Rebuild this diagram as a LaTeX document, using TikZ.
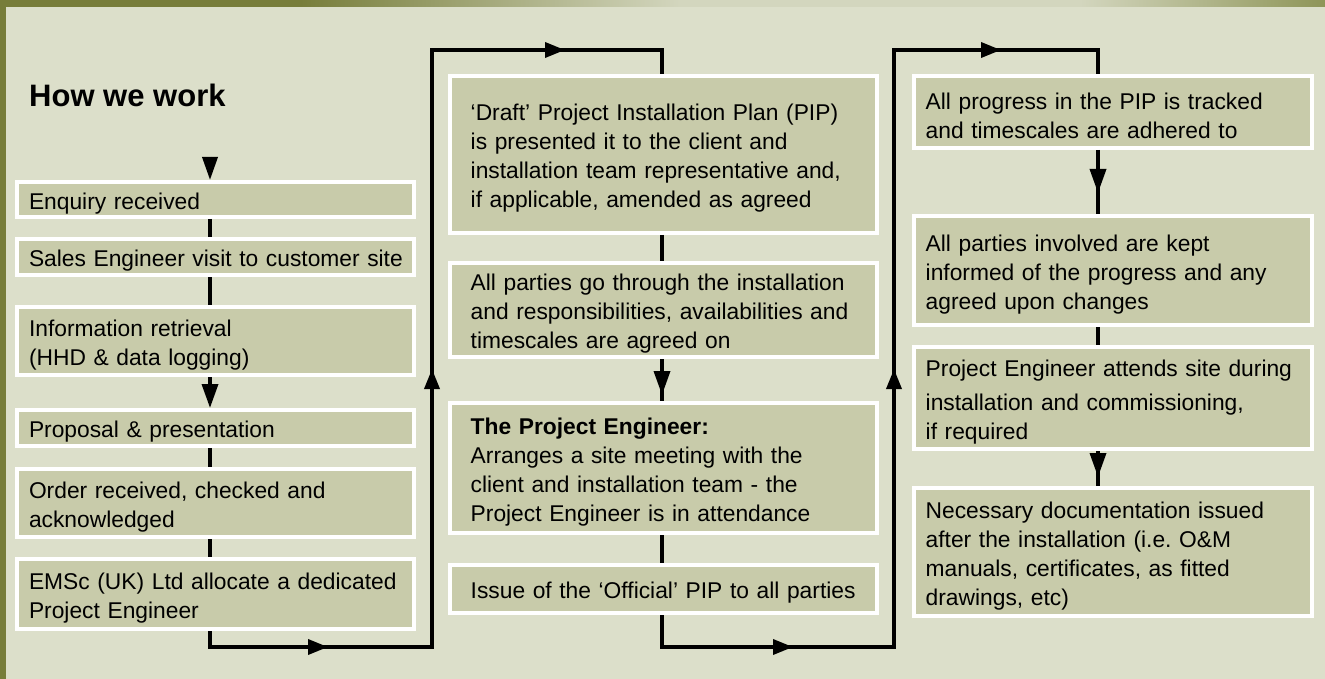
\documentclass[tikz,border=0pt]{standalone}
\usepackage{fontspec}
\setmainfont{Liberation Sans}
\usetikzlibrary{arrows.meta,decorations.markings}
\definecolor{bgc}{HTML}{DCDFCA}
\definecolor{boxc}{HTML}{C8CBAA}
\definecolor{olive}{HTML}{777D3A}
\definecolor{olivemid}{HTML}{8E9558}
\definecolor{lightstrip}{HTML}{D3D6BE}
\begin{document}
\begin{tikzpicture}[x=1pt,y=-1pt,
  stepbox/.style={draw=white, line width=4pt, fill=boxc, inner ysep=0pt, anchor=north west,
    align=left, font=\fontsize{22.8}{29}\selectfont\frenchspacing,
    execute at begin node={\rule{0pt}{24pt}}},
  cola/.style={stepbox, minimum width=397pt, inner xsep=12pt, text width=373pt},
  colb/.style={stepbox, minimum width=427pt, inner xsep=20.7pt, text width=385.6pt},
  colc/.style={stepbox, minimum width=398pt, inner xsep=11.7pt, text width=374.6pt},
  conn/.style={line width=3.5pt, draw=black},
  downarr/.style={-{Triangle[length=24pt,width=16pt]}},
  midtip/.style={postaction={decorate}, decoration={markings,
    mark=at position #1 with {\arrow{Triangle[length=24pt,width=16pt]}}}}
]
% background and frame
\useasboundingbox (0,0) rectangle (1325,679);
\fill[bgc] (0,0) rectangle (1325,679);
\fill[olive] (0,0) rectangle (6,679);
\fill[olive] (0,0) rectangle (300,7);
\shade[left color=olive, right color=lightstrip] (300,0) rectangle (680,7);
\fill[lightstrip] (680,0) rectangle (1080,7);
\shade[left color=lightstrip, right color=olivemid] (1080,0) rectangle (1325,7);

% title
\node[anchor=base west, inner sep=0pt, font=\bfseries\fontsize{31}{36}\selectfont] (title) at (29,107) {How we work};

% column 1
\node[cola, minimum height=35pt] (e1) at (15,180) {Enquiry received};
\node[cola, minimum height=36pt] (e2) at (15,237) {\mbox{Sales Engineer visit to customer site}};
\node[cola, minimum height=68pt] (e3) at (15,305) {Information retrieval\\(HHD \& data logging)};
\node[cola, minimum height=36pt] (e4) at (15,408) {Proposal \& presentation};
\node[cola, minimum height=68pt] (e5) at (15,467) {Order received, checked and\\acknowledged};
\node[cola, minimum height=70pt] (e6) at (15,557) {EMSc (UK) Ltd allocate a dedicated\\Project Engineer};

% column 2
\node[colb, minimum height=157pt] (d1) at (448,74) {‘Draft’ Project Installation Plan (PIP)\\is presented it to the client and\\installation team representative and,\\if applicable, amended as agreed};
\node[colb, minimum height=94pt] (d2) at (448,261) {All parties go through the installation\\and responsibilities, availabilities and\\timescales are agreed on};
\node[colb, minimum height=130pt] (d3) at (448,401) {\textbf{The Project Engineer:}\\Arranges a site meeting with the\\client and installation team - the\\Project Engineer is in attendance};
\node[colb, minimum height=48pt] (d4) at (448,563) {Issue of the ‘Official’ PIP to all parties};

% column 3
\node[colc, minimum height=72pt] (p1) at (912,74) {All progress in the PIP is tracked\\and timescales are adhered to};
\node[colc, minimum height=109pt] (p2) at (912,214) {All parties involved are kept\\informed of the progress and any\\agreed upon changes};
\node[colc, minimum height=102pt] (p3) at (912,345) {Project Engineer attends site during\\[5pt]installation and commissioning,\\if required};
\node[colc, minimum height=128pt] (p4) at (912,486) {Necessary documentation issued\\after the installation (i.e.\ O\&M\\manuals, certificates, as fitted\\drawings, etc)};

% connector columns
\coordinate (c1) at (210,0);
\coordinate (c2) at (662,0);
\coordinate (c3) at (1098,0);
\coordinate (s0) at (210,157);

% column 1 connectors
\draw[conn, -{Triangle[length=23pt,width=15pt]}] (s0) -- (e1.north -| c1);
\draw[conn] (e1.south -| c1) -- (e2.north -| c1);
\draw[conn] (e2.south -| c1) -- (e3.north -| c1);
\draw[conn, downarr] (e3.south -| c1) -- (e4.north -| c1);
\draw[conn] (e4.south -| c1) -- (e5.north -| c1);
\draw[conn] (e5.south -| c1) -- (e6.north -| c1);

% column 2 connectors
\draw[conn] (d1.south -| c2) -- (d2.north -| c2);
\draw[conn, midtip=36pt] (d2.south -| c2) -- (d3.north -| c2);
\draw[conn] (d3.south -| c2) -- (d4.north -| c2);

% column 3 connectors
\draw[conn, midtip=43pt] (p1.south -| c3) -- (p2.north -| c3);
\draw[conn] (p2.south -| c3) -- (p3.north -| c3);
\draw[conn, midtip=26pt] (p3.south -| c3) -- (p4.north -| c3);

% loop 1
\coordinate (la1) at (210,647);
\coordinate (la2) at (432,647);
\coordinate (la3) at (432,50);
\coordinate (la4) at (662,50);
\draw[conn, postaction={decorate}, decoration={markings,
    mark=at position 134pt with {\arrow{Triangle[length=20pt,width=15pt]}},
    mark=at position 516pt with {\arrow{Triangle[length=20pt,width=15pt]}},
    mark=at position 968pt with {\arrow{Triangle[length=20pt,width=15pt]}}}]
  (e6.south -| c1) -- (la1) -- (la2) -- (la3) -- (la4) -- (d1.north -| c2);

% loop 2
\coordinate (lb1) at (662,647);
\coordinate (lb2) at (894,647);
\coordinate (lb3) at (894,50);
\coordinate (lb4) at (1098,50);
\draw[conn, postaction={decorate}, decoration={markings,
    mark=at position 163pt with {\arrow{Triangle[length=20pt,width=15pt]}},
    mark=at position 542pt with {\arrow{Triangle[length=20pt,width=15pt]}},
    mark=at position 968pt with {\arrow{Triangle[length=20pt,width=15pt]}}}]
  (d4.south -| c2) -- (lb1) -- (lb2) -- (lb3) -- (lb4) -- (p1.north -| c3);
\end{tikzpicture}
\end{document}
